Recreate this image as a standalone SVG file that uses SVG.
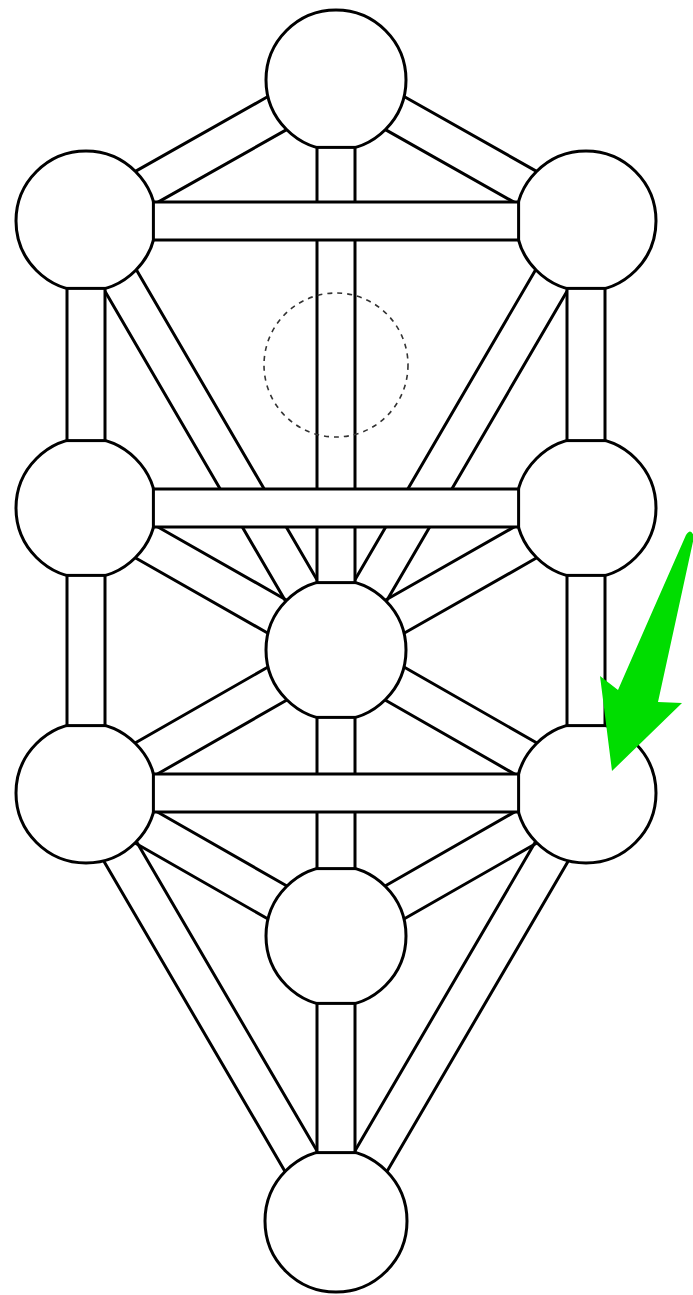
<svg xmlns="http://www.w3.org/2000/svg" width="693" height="1295" viewBox="0 0 693 1295">
<style>
.node{fill:#fff;stroke:#000;stroke-width:3}
.ch{fill:#fff;stroke:#000;stroke-width:3;stroke-linejoin:miter}
.dg{fill:none;stroke:#000;stroke-width:3}
.daath{fill:none;stroke:#333;stroke-width:1.6;stroke-dasharray:5 5}
.arrow{fill:#00dd00;stroke:none}
</style>
<rect x="0" y="0" width="693" height="1295" fill="#fff"/>
<g id="nodes">
<g id="kether"><circle class="node" cx="336" cy="80" r="70"/></g>
<g id="binah"><circle class="node" cx="86" cy="221" r="70"/></g>
<g id="chokmah"><circle class="node" cx="586" cy="221" r="70"/></g>
<g id="geburah"><circle class="node" cx="86" cy="508" r="70"/></g>
<g id="chesed"><circle class="node" cx="586" cy="508" r="70"/></g>
<g id="tiphareth"><circle class="node" cx="336" cy="650" r="70"/></g>
<g id="hod"><circle class="node" cx="86" cy="793" r="70"/></g>
<g id="netzach"><circle class="node" cx="586" cy="793" r="70"/></g>
<g id="yesod"><circle class="node" cx="336" cy="936" r="70"/></g>
<g id="malkuth"><circle class="node" cx="336" cy="1221" r="71"/></g>
</g>
<g id="connectors">
<g id="diagonals">
<path class="dg" transform="translate(336,80) rotate(150.58)" d="M67.4,-19 h152.2 M67.4,19 h152.2"/>
<path class="dg" transform="translate(336,80) rotate(29.42)" d="M67.4,-19 h152.2 M67.4,19 h152.2"/>
<path class="dg" transform="translate(86,221) rotate(59.77)" d="M67.4,-19 h361.7 M67.4,19 h361.7"/>
<path class="dg" transform="translate(586,221) rotate(120.23)" d="M67.4,-19 h361.7 M67.4,19 h361.7"/>
<path class="dg" transform="translate(86,508) rotate(29.60)" d="M67.4,-19 h152.7 M67.4,19 h152.7"/>
<path class="dg" transform="translate(586,508) rotate(150.40)" d="M67.4,-19 h152.7 M67.4,19 h152.7"/>
<path class="dg" transform="translate(86,793) rotate(-29.77)" d="M67.4,-19 h153.2 M67.4,19 h153.2"/>
<path class="dg" transform="translate(586,793) rotate(-150.23)" d="M67.4,-19 h153.2 M67.4,19 h153.2"/>
<path class="dg" transform="translate(86,793) rotate(29.77)" d="M67.4,-19 h153.2 M67.4,19 h153.2"/>
<path class="dg" transform="translate(586,793) rotate(150.23)" d="M67.4,-19 h153.2 M67.4,19 h153.2"/>
<path class="dg" transform="translate(86,793) rotate(59.71)" d="M67.4,-19 h360.3 M67.4,19 h360.3"/>
<path class="dg" transform="translate(586,793) rotate(120.29)" d="M67.4,-19 h360.3 M67.4,19 h360.3"/>
</g>
<g id="verticals">
<rect class="ch" x="317" y="147.4" width="38" height="435.2"/>
<rect class="ch" x="317" y="717.4" width="38" height="151.2"/>
<rect class="ch" x="317" y="1003.4" width="38" height="149.2"/>
<rect class="ch" x="67" y="288.4" width="38" height="152.2"/>
<rect class="ch" x="67" y="575.4" width="38" height="150.2"/>
<rect class="ch" x="567" y="288.4" width="38" height="152.2"/>
<rect class="ch" x="567" y="575.4" width="38" height="150.2"/>
</g>
<g id="horizontals">
<rect class="ch" x="153.4" y="202" width="365.2" height="38"/>
<rect class="ch" x="153.4" y="489" width="365.2" height="38"/>
<rect class="ch" x="153.4" y="774" width="365.2" height="38"/>
</g>
</g>
<g id="daath"><circle class="daath" cx="336" cy="365" r="72"/></g>
<g id="arrow"><path class="arrow" d="M 618,690 Q 652,612 686,535 Q 691,527 694,537 Q 676,620 658,702 L 682,703 L 612,771 L 600,676 Z"/></g>
</svg>
